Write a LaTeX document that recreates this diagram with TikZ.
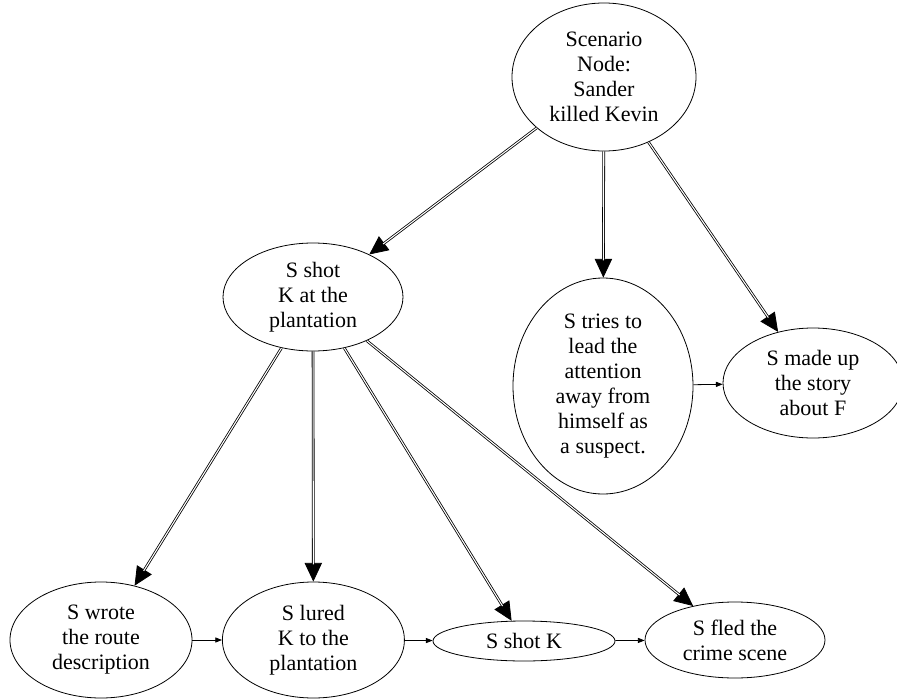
\documentclass[tikz,border=0pt]{standalone}
\usepackage{fontspec}
\setmainfont{Liberation Serif}
\usetikzlibrary{shapes.geometric,arrows.meta}

\tikzset{
  ev/.style={draw, ellipse, line width=0.6pt, inner sep=0pt, align=center,
    font=\fontsize{16.5}{18.75}\selectfont},
  sz/.style 2 args={minimum width=#1*0.75pt, minimum height=#2*0.75pt},
  tipline/.style={line width=0.6pt, -{Triangle[length=14pt,width=13pt]}},
  dblline/.style={line width=0.6pt, double=white, double distance=0.8pt, shorten >=13pt},
  seq/.style={line width=0.6pt, -{Triangle[length=5pt,width=3.8pt]}}
}

\begin{document}
\begin{tikzpicture}[x=0.75pt, y=-0.75pt]
  \useasboundingbox (0,0) rectangle (897,700);

  \node[ev, sz={184}{148}] (scen) at (604,77) {Scenario\\Node:\\Sander\\killed Kevin};
  \node[ev, sz={180}{108}] (plant) at (313,297) {S shot\\K at the\\plantation};
  \node[ev, sz={180}{216}] (tries) at (603,386) {S tries to\\lead the\\attention\\away from\\himself as\\a suspect.};
  \node[ev, sz={180}{110}] (story) at (813,383) {S made up\\the story\\about F};
  \node[ev, sz={182}{116}] (wrote) at (101,640) {S wrote\\the route\\description};
  \node[ev, sz={182}{116}] (lured) at (313.4,640) {S lured\\K to the\\plantation};
  \node[ev, sz={182}{40}] (shotk) at (524,641) {S shot K};
  \node[ev, sz={180}{76}] (fled) at (735,640) {S fled the\\crime scene};

  % part-of links: double rules with a solid head
  \foreach \a/\b in {scen/plant, scen/tries, scen/story,
                     plant/wrote, plant/lured, plant/shotk, plant/fled} {
    \draw[tipline] (\a) -- (\b);
    \draw[dblline] (\a) -- (\b);
  }

  % temporal order
  \draw[seq] (tries) -- (story);
  \draw[seq] (wrote) -- (lured);
  \draw[seq] (lured) -- (shotk);
  \draw[seq] (shotk) -- (fled);
\end{tikzpicture}
\end{document}
